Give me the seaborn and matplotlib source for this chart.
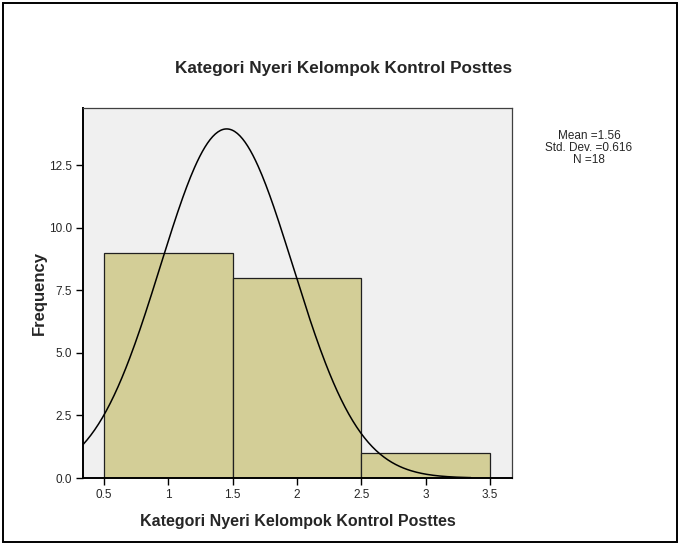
import numpy as np
import pandas as pd
import matplotlib
matplotlib.use("Agg")
import matplotlib.pyplot as plt
import matplotlib.patches as mpatches
import seaborn as sns

# Data
categories = [1, 2, 3]
counts = [9, 8, 1]
bin_edges = [0.5, 1.5, 2.5, 3.5]
x_ticks = [0.5, 1, 1.5, 2, 2.5, 3, 3.5]
x_tick_labels = ["0.5", "1", "1.5", "2", "2.5", "3", "3.5"]
y_ticks = [0.0, 2.5, 5.0, 7.5, 10.0, 12.5]
y_tick_labels = ["0.0", "2.5", "5.0", "7.5", "10.0", "12.5"]
# normal curve as drawn in the reference
curve_mean = 1.453
curve_sd = 0.515
curve_n = 18
stats_text = "Mean =1.56\nStd. Dev. =0.616\nN =18"
title = "Kategori Nyeri Kelompok Kontrol Posttes"

sns.set_style("white")
plt.rcParams["font.family"] = ["Liberation Sans", "DejaVu Sans"]

df = pd.DataFrame({"nyeri": np.repeat(categories, counts)})

fig = plt.figure(figsize=(6.8, 5.44), dpi=100)
ax = fig.add_axes([0.122, 0.1213, 0.631, 0.6802])
ax.set_facecolor("#F0F0F0")

sns.histplot(data=df, x="nyeri", bins=bin_edges, color="#D3CE97", alpha=1,
             edgecolor="#202020", linewidth=0.9, ax=ax)

xs = np.linspace(0.337, 3.35, 300)
ys = curve_n / (curve_sd * np.sqrt(2 * np.pi)) * np.exp(-(xs - curve_mean) ** 2 / (2 * curve_sd ** 2))
sns.lineplot(x=xs, y=ys, color="black", linewidth=1.1, ax=ax)

ax.set_xlim(0.337, 3.67)
ax.set_ylim(0, 14.78)
ax.set_xticks(x_ticks)
ax.set_xticklabels(x_tick_labels)
ax.set_yticks(y_ticks)
ax.set_yticklabels(y_tick_labels)
ax.tick_params(axis="both", direction="out", length=5, width=1, labelsize=8.5,
               bottom=True, left=True, color="black", pad=3)

for s in ["left", "bottom"]:
    ax.spines[s].set_color("black")
    ax.spines[s].set_linewidth(1.4)
for s in ["top", "right"]:
    ax.spines[s].set_color("#404040")
    ax.spines[s].set_linewidth(0.9)

ax.set_xlabel(title, fontsize=11.5, fontweight="bold", labelpad=9)
ax.set_ylabel("Frequency", fontsize=12, fontweight="bold", labelpad=1)
fig.text(0.505, 1 - 68 / 544, title, ha="center", va="center", fontsize=12.3, fontweight="bold")

fig.text(0.866, 1 - 130 / 544, stats_text, ha="center", va="top", fontsize=8.5, linespacing=1.0)

border = mpatches.Rectangle((3 / 680, 2 / 544), 674 / 680, 539 / 544, transform=fig.transFigure,
                            fill=False, edgecolor="black", linewidth=1.4)
fig.patches.append(border)

fig.savefig("out.png", dpi=100)
